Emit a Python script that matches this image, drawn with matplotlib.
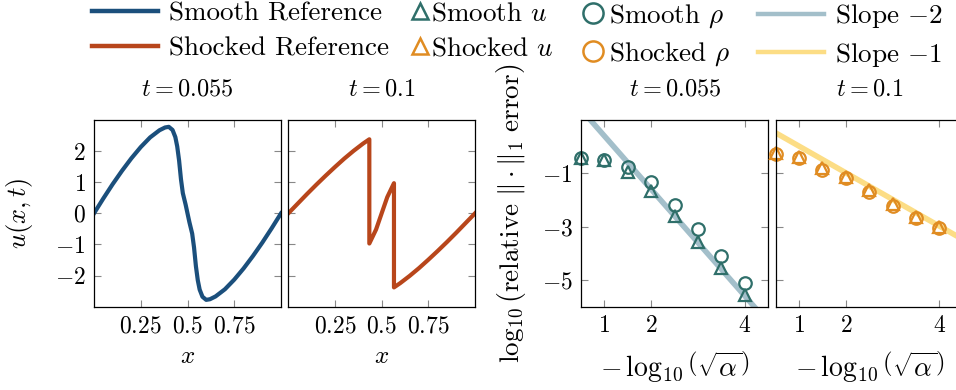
import matplotlib
matplotlib.use("Agg")
import matplotlib.pyplot as plt
from matplotlib.lines import Line2D


plt.rcParams["font.family"] = "serif"
plt.rcParams["font.serif"] = ["cmr10"]
plt.rcParams["mathtext.fontset"] = "cm"
plt.rcParams["axes.unicode_minus"] = False
plt.rcParams["axes.formatter.use_mathtext"] = True
plt.rcParams["font.size"] = 17

# reference solutions u(x, t)
smooth_x = [0, 0.05, 0.1, 0.15, 0.2, 0.25, 0.3, 0.35, 0.38, 0.40, 0.42, 0.435, 0.445,
            0.455, 0.465, 0.475, 0.49, 0.5, 0.51, 0.525, 0.535, 0.545, 0.555, 0.565,
            0.58, 0.60, 0.62, 0.65, 0.7, 0.75, 0.8, 0.85, 0.9, 0.95, 1.0]
smooth_u = [0, 0.48, 0.94, 1.37, 1.77, 2.13, 2.44, 2.67, 2.76, 2.78, 2.68, 2.45, 2.15,
            1.70, 1.10, 0.65, 0.28, 0.0, -0.28, -0.65, -1.10, -1.70, -2.15, -2.45,
            -2.68, -2.78, -2.76, -2.67, -2.44, -2.13, -1.77, -1.37, -0.94, -0.48, 0]

shocked_x = [0, 0.05, 0.1, 0.15, 0.2, 0.25, 0.3, 0.35, 0.4, 0.434, 0.434, 0.47, 0.5,
             0.53, 0.566, 0.566, 0.6, 0.65, 0.7, 0.75, 0.8, 0.85, 0.9, 0.95, 1.0]
shocked_u = [0, 0.31, 0.62, 0.92, 1.21, 1.49, 1.76, 2.01, 2.24, 2.38, -0.97, -0.52, 0.0,
             0.52, 0.97, -2.38, -2.24, -2.01, -1.76, -1.49, -1.21, -0.92, -0.62, -0.31, 0]

# convergence data
alpha_x = [0.5, 1, 1.5, 2, 2.5, 3, 3.5, 4]
smooth_rho_err = [-0.42, -0.50, -0.76, -1.33, -2.17, -3.10, -4.10, -5.10]
smooth_u_err = [-0.43, -0.50, -0.94, -1.66, -2.60, -3.58, -4.56, -5.57]
shocked_rho_err = [-0.28, -0.43, -0.88, -1.19, -1.69, -2.23, -2.67, -3.06]
shocked_u_err = [-0.25, -0.40, -0.80, -1.14, -1.64, -2.15, -2.62, -3.03]

slope_x = [0.5, 4.5]
slope2_y = [1.4, -6.6]
slope1_y = [0.52, -3.48]

titles = ["$t = 0.055$", "$t = 0.1$"]
u_xticks = [0.25, 0.5, 0.75]
u_xticklabels = ["$0.25$", "$0.5$", "$0.75$"]
u_yticks = [-2, -1, 0, 1, 2]
u_yticklabels = ["$-2$", "$-1$", "$0$", "$1$", "$2$"]
err_xticks = [1, 2, 4]
err_xticklabels = ["$1$", "$2$", "$4$"]
err_yticks = [-5, -3, -1]
err_yticklabels = ["$-5$", "$-3$", "$-1$"]

C_SMOOTH = "#1b4f7c"
C_SHOCK = "#b8461b"
C_TEAL = "#2f6f6a"
C_ORANGE = "#e08c22"
C_SLOPE2 = "#a3bfca"
C_SLOPE1 = "#fcdd85"

W, H = 956, 390
fig = plt.figure(figsize=(W / 100, H / 100), dpi=100)


def px_axes(x0, x1, y0, y1):
    return fig.add_axes([x0 / W, 1 - y1 / H, (x1 - x0) / W, (y1 - y0) / H])


def style(ax):
    for s in ax.spines.values():
        s.set_linewidth(0.9)
    ax.tick_params(direction="in", top=True, right=True, length=5,
                   width=0.8, color="#888888", pad=6)


ax1 = px_axes(94, 281, 120, 306.7)
ax2 = px_axes(288.3, 475, 120, 306.7)
ax3 = px_axes(581, 768.3, 120, 306.7)
ax4 = px_axes(775.6, 962.9, 120, 306.7)

ax1.plot(smooth_x, smooth_u, color=C_SMOOTH, lw=3)
ax2.plot(shocked_x, shocked_u, color=C_SHOCK, lw=3)

for ax in (ax1, ax2):
    style(ax)
    ax.set_xlim(0, 1)
    ax.set_ylim(-3, 3)
    ax.set_xticks(u_xticks, u_xticklabels)
    ax.set_yticks(u_yticks, u_yticklabels)
    ax.set_xlabel("$x$", labelpad=6, fontsize=18)
ax2.tick_params(labelleft=False)
ax1.set_ylabel("$u(x,t)$", labelpad=14, fontsize=19)

mk = dict(ls="none", markersize=9, markeredgewidth=1.6, markerfacecolor="none")
ax3.plot(slope_x, slope2_y, color=C_SLOPE2, lw=4, zorder=1)
ax3.plot(alpha_x, smooth_u_err, marker="^", color=C_TEAL, clip_on=False, **mk)
ax3.plot(alpha_x, smooth_rho_err, marker="o", color=C_TEAL, clip_on=False, **mk)
ax4.plot(slope_x, slope1_y, color=C_SLOPE1, lw=4, zorder=1)
ax4.plot(alpha_x, shocked_u_err, marker="^", color=C_ORANGE, clip_on=False, **mk)
ax4.plot(alpha_x, shocked_rho_err, marker="o", color=C_ORANGE, clip_on=False, **mk)

for ax in (ax3, ax4):
    style(ax)
    ax.set_xlim(0.5, 4.5)
    ax.set_ylim(-6, 1)
    ax.set_xticks(err_xticks, err_xticklabels)
    ax.set_yticks(err_yticks, err_yticklabels)
    ax.set_xlabel(r"$-\,\log_{10}\left(\sqrt{\alpha}\right)$", labelpad=9, fontsize=20)
ax4.tick_params(labelleft=False)
ax3.set_ylabel(r"$\log_{10}\left(\mathrm{relative}\ \|\cdot\|_1\ \mathrm{error}\right)$",
               labelpad=10, fontsize=19.5)

for ax, t in zip((ax1, ax2, ax3, ax4), titles * 2):
    ax.set_title(t, pad=18, fontsize=17.5)

mk_leg = dict(ls="none", markeredgewidth=1.8, markerfacecolor="none")


# legend, one block per column
def leg(handles, labels, x, hl, tp):
    fig.legend(handles, labels, loc="upper left", bbox_to_anchor=(x / W, 1 - 2 / H),
               frameon=False, borderpad=0, borderaxespad=0, handlelength=hl,
               handletextpad=tp, labelspacing=0.4, fontsize=19.5)


leg([Line2D([], [], color=C_SMOOTH, lw=3.2), Line2D([], [], color=C_SHOCK, lw=3.2)],
    ["Smooth Reference", "Shocked Reference"], 92, 2.45, 0.4)
leg([Line2D([], [], marker="^", color=C_TEAL, markersize=12, **mk_leg),
     Line2D([], [], marker="^", color=C_ORANGE, markersize=12, **mk_leg)],
    ["Smooth $u$", "Shocked $u$"], 411, 0.65, 0.1)
leg([Line2D([], [], marker="o", color=C_TEAL, markersize=14.5, **mk_leg),
     Line2D([], [], marker="o", color=C_ORANGE, markersize=14.5, **mk_leg)],
    ["Smooth $\\rho$", "Shocked $\\rho$"], 582, 0.8, 0.2)
leg([Line2D([], [], color=C_SLOPE2, lw=3.2), Line2D([], [], color=C_SLOPE1, lw=3.2)],
    ["Slope $-2$", "Slope $-1$"], 758, 2.45, 0.4)

fig.savefig("out.png", dpi=100)
